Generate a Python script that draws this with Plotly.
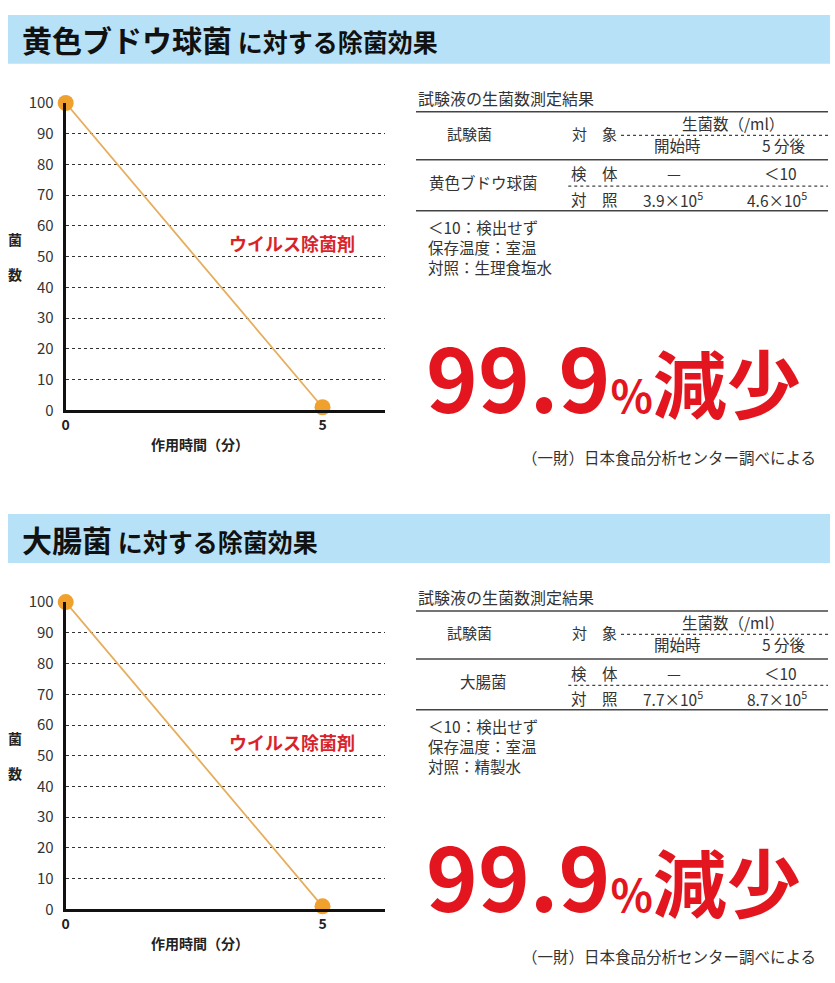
import plotly.graph_objects as go

# canvas size in pixels (same as the reference picture)
W, H = 835, 983
PANEL_SHIFT = 510  # second panel sits this many px below the first

# ---------------------------------------------------------------------------
# data
# ---------------------------------------------------------------------------
TIME_MIN = [0, 5]
COUNT = [100, 1]
Y_TICKS = list(range(0, 101, 10))
X_TICKS = [0, 5]

SPECIES = ['黄色ブドウ球菌', '大腸菌']
SAMPLE_START = ['—', '—']
SAMPLE_AFTER = ['＜10', '＜10']
CONTROL_START = ['3.9×10<sup>5</sup>', '7.7×10<sup>5</sup>']
CONTROL_AFTER = ['4.6×10<sup>5</sup>', '8.7×10<sup>5</sup>']
CONTROL_LIQUID = ['生理食塩水', '精製水']
REDUCTION = ['99.9', '99.9']

FONT = 'Noto Sans CJK JP'
RED = '#E3161F'
TEXT = '#333333'
BANNER = '#B7E1F6'


def px(x):
    return x / W


def py(y):
    return 1 - y / H


fig = go.Figure()
annotations = []
shapes = []


def note(text, x, y, size=14, color=TEXT, xanchor='center', yanchor='middle',
         dy=0, align='center'):
    annotations.append(dict(
        text=text, x=px(x), y=py(y + dy), xref='paper', yref='paper',
        xanchor=xanchor, yanchor=yanchor, showarrow=False, align=align,
        font=dict(family=FONT, size=size, color=color)
    ))


def hline(x0, x1, y, dash='solid', width=1.5, color='#444', dy=0):
    shapes.append(dict(
        type='line', xref='paper', yref='paper',
        x0=px(x0), x1=px(x1), y0=py(y + dy), y1=py(y + dy),
        line=dict(color=color, width=width, dash=dash)
    ))


for i, species in enumerate(SPECIES):
    dy = i * PANEL_SHIFT
    n = '' if i == 0 else str(i + 1)

    # header banner
    shapes.append(dict(
        type='rect', xref='paper', yref='paper', layer='below',
        x0=px(4), x1=px(830), y0=py(53 + dy), y1=py(3 + dy),
        fillcolor=BANNER, line=dict(width=0)
    ))
    note("<b><span style='font-size:30px'>" + species + "</span>"
         "<span style='font-size:25px'> に対する除菌効果</span></b>",
         16, 28, size=25, color='#111', xanchor='left', dy=dy)

    # line chart
    fig.add_trace(go.Scatter(
        x=TIME_MIN, y=COUNT, xaxis='x' + n, yaxis='y' + n,
        mode='lines+markers', cliponaxis=False, showlegend=False,
        line=dict(color='#E6AE5C', width=1.8),
        marker=dict(size=16, color='#F0A02C'),
        hoverinfo='skip'
    ))
    fig.layout['xaxis' + n] = dict(
        domain=[px(62), px(383)], range=[0, 6.22], anchor='y' + n,
        showline=True, linewidth=3, linecolor='#111',
        showgrid=False, zeroline=False, ticks='',
        tickvals=X_TICKS, ticktext=['<b>%d</b>' % t for t in X_TICKS],
        tickfont=dict(family=FONT, size=14, color='#222'),
    )
    fig.layout['yaxis' + n] = dict(
        domain=[py(407 + dy), py(93 + dy)], range=[0, 100], anchor='x' + n,
        showline=True, linewidth=3, linecolor='#111',
        showgrid=True, gridcolor='#333', griddash='dot', gridwidth=1.3,
        zeroline=False, ticks='', tickvals=Y_TICKS,
        tickfont=dict(family=FONT, size=15, color=TEXT),
        ticklabelstandoff=6,
    )
    note('<b>作用時間（分）</b>', 197, 441, size=14, color='#222', dy=dy)
    note('<b>菌</b>', 11, 232, size=14, color='#222', dy=dy)
    note('<b>数</b>', 11, 268, size=14, color='#222', dy=dy)
    note('<b>ウイルス除菌剤</b>', 289, 236, size=18, color='#D9232A', dy=dy)

    # results table
    note('試験液の生菌数測定結果', 414, 88, size=16, xanchor='left', dy=dy)
    hline(414, 828, 102, dy=dy)
    note('試験菌', 468, 124, size=15, dy=dy)
    note('対　象', 593, 124, size=15, dy=dy)
    note('生菌数（/ml）', 786, 113, size=15.5, xanchor='right', dy=dy)
    hline(620, 828, 126, dash='dot', width=1.2, dy=dy)
    note('開始時', 677, 136, size=15.5, dy=dy)
    note('5 分後', 808, 136, size=15.5, xanchor='right', dy=dy)
    hline(414, 828, 151, dy=dy)
    note(species, 482, 174, size=15.5, dy=dy)
    note('検　体', 593, 165, size=15.5, dy=dy)
    note(SAMPLE_START[i], 673, 165, size=15.5, dy=dy)
    note(SAMPLE_AFTER[i], 780, 165, size=15.5, dy=dy)
    hline(567, 828, 178, dash='dot', width=1.2, dy=dy)
    note('対　照', 593, 191, size=15.5, dy=dy)
    note(CONTROL_START[i], 672, 191, size=15.5, dy=dy)
    note(CONTROL_AFTER[i], 777, 191, size=15.5, dy=dy)
    hline(414, 828, 203, dy=dy)

    note('＜10：検出せず<br>保存温度：室温<br>対照：' + CONTROL_LIQUID[i],
         424, 240, size=15.5, xanchor='left', align='left', dy=dy)

    # headline
    note("<b>" + REDUCTION[i] + "<span style='font-size:44px'>%</span>"
         "<span style='font-size:74px'>減少</span></b>",
         612, 370, size=88, color=RED, dy=dy)
    note('（一財）日本食品分析センター調べによる', 818, 455, size=15.5,
         xanchor='right', dy=dy)

fig.update_layout(
    width=W, height=H,
    margin=dict(l=0, r=0, t=0, b=0),
    paper_bgcolor='white', plot_bgcolor='white',
    font=dict(family=FONT, color=TEXT),
    annotations=annotations, shapes=shapes,
    showlegend=False,
)

# drop the default page margin so the figure fills the window exactly
fig.write_html('out.html', config={'displayModeBar': False},
               post_script="document.body.style.margin='0';"
                           "document.body.style.overflow='hidden';")
